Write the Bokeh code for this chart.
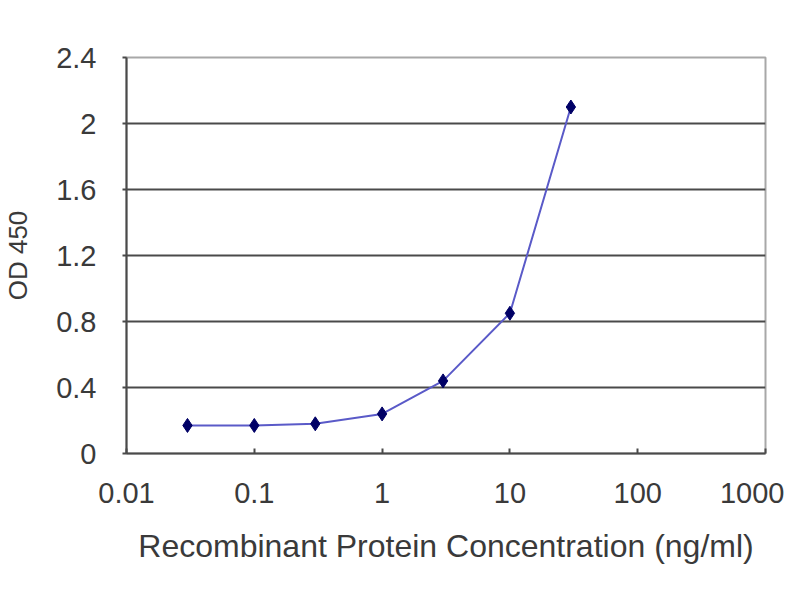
from bokeh.plotting import figure
from bokeh.models import FixedTicker, CustomJSTickFormatter, Range1d
from bokeh.embed import file_html
from bokeh.resources import INLINE

# data
concentration = [0.03, 0.1, 0.3, 1, 3, 10, 30]
od450 = [0.17, 0.17, 0.18, 0.24, 0.44, 0.85, 2.10]
x_ticks = [0.01, 0.1, 1, 10, 100, 1000]
y_ticks = [0, 0.4, 0.8, 1.2, 1.6, 2, 2.4]
y_grid = [0.4, 0.8, 1.2, 1.6, 2]
x_title = "Recombinant Protein Concentration (ng/ml)"
y_title = "OD 450"

FONT = "Liberation Sans"
TXT = "#3a3a3a"

p = figure(width=784, height=584, x_axis_type="log",
           x_range=Range1d(0.01, 1000), y_range=Range1d(0, 2.4),
           output_backend="svg", toolbar_location=None,
           min_border_left=118, min_border_top=57,
           min_border_right=19, min_border_bottom=131)

p.background_fill_color = "white"
p.border_fill_color = "white"
p.outline_line_color = "#a8a8a8"
p.outline_line_width = 2

p.xgrid.visible = False
p.ygrid.ticker = FixedTicker(ticks=y_grid)
p.ygrid.grid_line_color = "#4a4a4a"
p.ygrid.grid_line_width = 2

# x axis
xa = p.xaxis[0]
xa.ticker = FixedTicker(ticks=x_ticks, minor_ticks=[])
xa.formatter = CustomJSTickFormatter(code="return tick.toString();")
xa.axis_line_color = "#4a4a4a"
xa.axis_line_width = 2
xa.major_tick_in = 5
xa.major_tick_out = 0
xa.major_tick_line_color = "#4a4a4a"
xa.major_tick_line_width = 2
xa.minor_tick_line_color = None
xa.major_label_standoff = 29
xa.major_label_text_font = FONT
xa.major_label_text_font_size = "29px"
xa.major_label_text_color = TXT
xa.axis_label = x_title
xa.axis_label_text_font = FONT
xa.axis_label_text_font_size = "32px"
xa.axis_label_text_font_style = "normal"
xa.axis_label_text_color = TXT
xa.axis_label_standoff = 22

# y axis
ya = p.yaxis[0]
ya.ticker = FixedTicker(ticks=y_ticks, minor_ticks=[])
ya.formatter = CustomJSTickFormatter(code="return String(Math.round(tick*10)/10);")
ya.axis_line_color = "#4a4a4a"
ya.axis_line_width = 2
ya.major_tick_in = 0
ya.major_tick_out = 4
ya.major_tick_line_color = "#4a4a4a"
ya.major_tick_line_width = 2
ya.minor_tick_line_color = None
ya.major_label_standoff = 26
ya.major_label_text_font = FONT
ya.major_label_text_font_size = "29px"
ya.major_label_text_color = TXT
ya.axis_label = y_title
ya.axis_label_text_font = FONT
ya.axis_label_text_font_size = "26px"
ya.axis_label_text_font_style = "normal"
ya.axis_label_text_color = TXT
ya.axis_label_standoff = 20

p.line(concentration, od450, line_color="#5a5ac8", line_width=2)
p.scatter(concentration, od450, marker="diamond", size=14,
          fill_color="#000066", line_color="#000066")

open("out.html", "w").write(file_html(p, INLINE))
